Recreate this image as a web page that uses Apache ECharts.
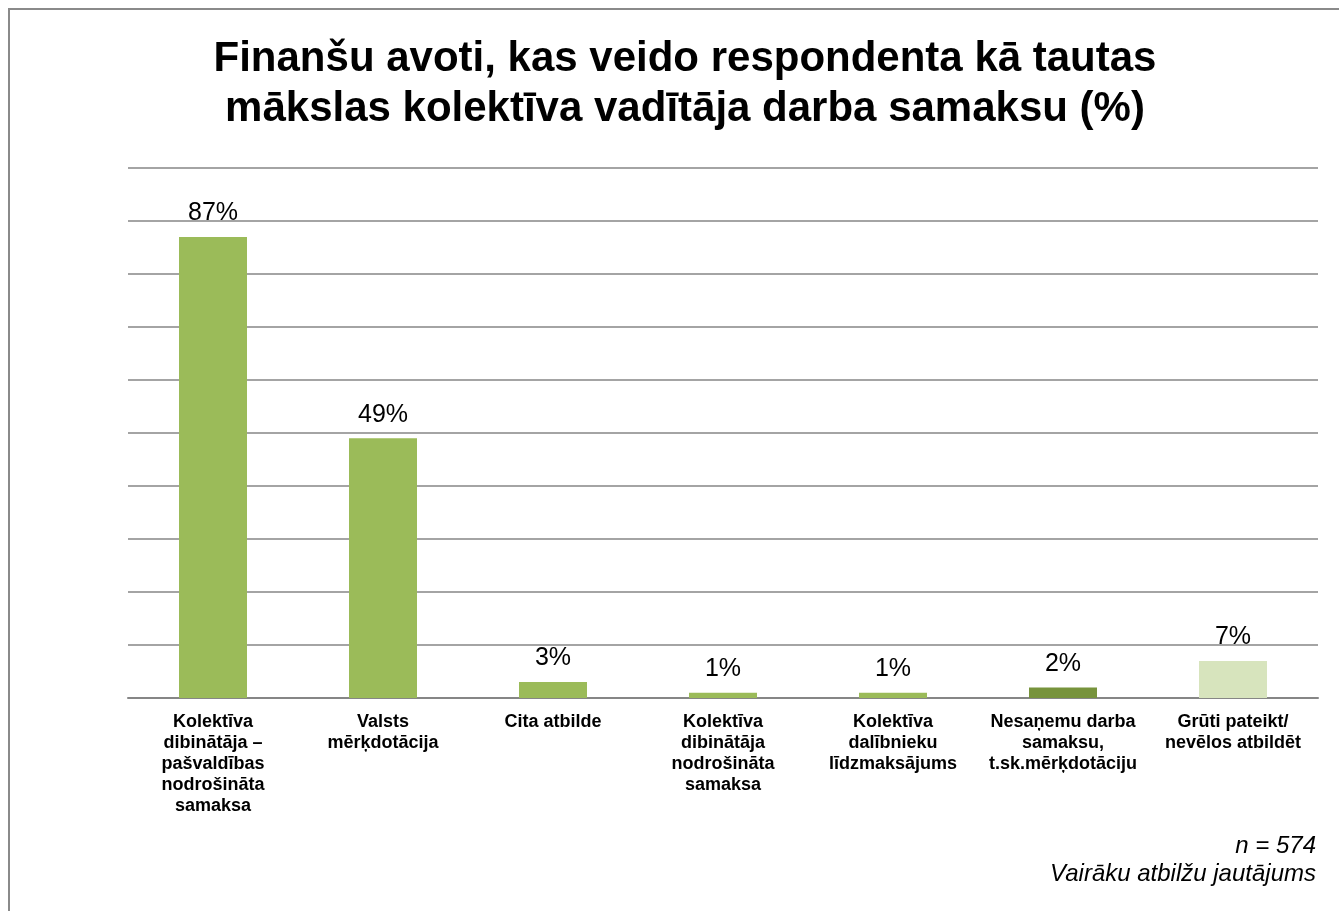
<!DOCTYPE html>
<html><head><meta charset="utf-8">
<script src="https://cdn.jsdelivr.net/npm/echarts@6/dist/echarts.min.js"></script>
<style>html,body{margin:0;padding:0;background:#fff}#c{width:1339px;height:911px}</style>
</head><body><div id="c"></div>
<script>
const titleLines = ['Finanšu avoti, kas veido respondenta kā tautas', 'mākslas kolektīva vadītāja darba samaksu (%)'];
const categories = [
  'Kolektīva\ndibinātāja –\npašvaldības\nnodrošināta\nsamaksa',
  'Valsts\nmērķdotācija',
  'Cita atbilde',
  'Kolektīva\ndibinātāja\nnodrošināta\nsamaksa',
  'Kolektīva\ndalībnieku\nlīdzmaksājums',
  'Nesaņemu darba\nsamaksu,\nt.sk.mērķdotāciju',
  'Grūti pateikt/\nnevēlos atbildēt'
];
const values = [87, 49, 3, 1, 1, 2, 7];
const barColors = ['#9BBB59', '#9BBB59', '#9BBB59', '#9BBB59', '#9BBB59', '#77933C', '#D7E4BD'];
const footnotes = ['n = 574', 'Vairāku atbilžu jautājums'];

const chart = echarts.init(document.getElementById('c'), null, {renderer: 'canvas'});
chart.setOption({
  backgroundColor: '#fff',
  animation: false,
  title: {
    text: titleLines.join('\n'),
    left: 680, top: 29, textAlign: 'center',
    textStyle: {fontFamily: 'Liberation Sans, Arial, sans-serif', fontSize: 42, fontWeight: 'bold', color: '#000', lineHeight: 50}
  },
  graphic: [
    {type: 'rect', shape: {x: 9, y: 9, width: 1340, height: 910}, style: {fill: 'none', stroke: '#8a8a8a', lineWidth: 2}, silent: true},
    {type: 'text', right: 23, top: 834, style: {text: footnotes[0], font: 'italic 24px "Liberation Sans", Arial, sans-serif', fill: '#000'}},
    {type: 'text', right: 23, top: 862, style: {text: footnotes[1], font: 'italic 24px "Liberation Sans", Arial, sans-serif', fill: '#000'}}
  ],
  grid: {left: 128, right: 21, top: 168, bottom: 213, containLabel: false},
  xAxis: {
    type: 'category', data: categories,
    axisLine: {show: true, lineStyle: {color: '#868686', width: 2}},
    axisTick: {show: false},
    axisLabel: {interval: 0, margin: 14, color: '#000', fontFamily: 'Liberation Sans, Arial, sans-serif', fontSize: 18, fontWeight: 'bold', lineHeight: 21, verticalAlign: 'top'}
  },
  yAxis: {
    type: 'value', min: 0, max: 100, interval: 10,
    axisLabel: {show: false}, axisLine: {show: false}, axisTick: {show: false},
    splitLine: {lineStyle: {color: '#868686', width: 1.5}}
  },
  series: [{
    type: 'bar', barWidth: '40%',
    data: values.map((v, i) => ({value: v, itemStyle: {color: barColors[i]}})),
    label: {show: true, position: 'top', distance: 11, formatter: '{c}%', color: '#000', fontFamily: 'Liberation Sans, Arial, sans-serif', fontSize: 25}
  }]
});
</script></body></html>
